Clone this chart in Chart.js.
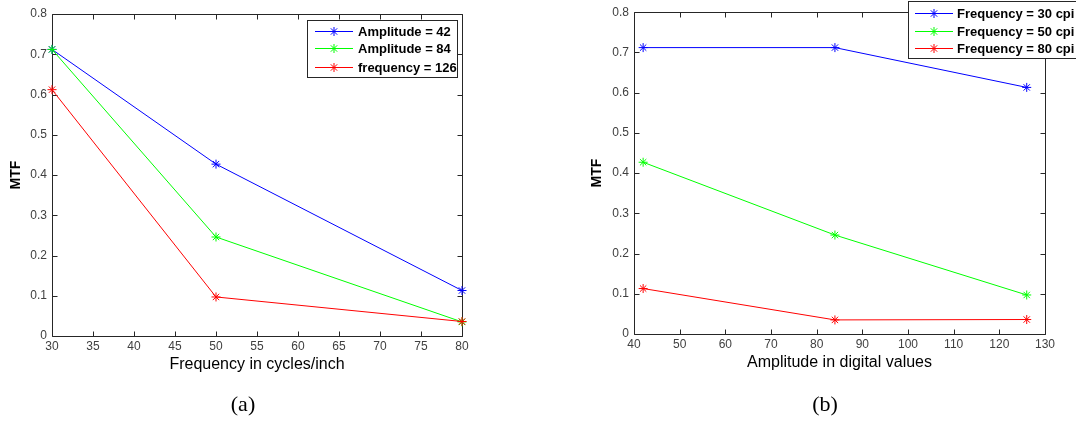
<!DOCTYPE html>
<html>
<head>
<meta charset="utf-8">
<script src="https://cdn.jsdelivr.net/npm/chart.js@4/dist/chart.umd.min.js"></script>
<style>
  html, body { margin: 0; padding: 0; background: #fff; width: 1076px; height: 421px; overflow: hidden; }
  .panel { position: absolute; top: 0; height: 421px; }
  #wrapA { left: 0; width: 540px; }
  #wrapB { left: 540px; width: 536px; }
  .cap { position: absolute; top: 391px; font-family: "Liberation Serif", "DejaVu Serif", serif; font-size: 22px; line-height: 26px; color: #000; transform: translateX(-50%); }
</style>
</head>
<body>
<div class="panel" id="wrapA"><canvas id="chartA" width="540" height="421"></canvas></div>
<div class="panel" id="wrapB"><canvas id="chartB" width="536" height="421"></canvas></div>
<div class="cap" style="left:243px">(a)</div>
<div class="cap" style="left:825px">(b)</div>
<script>
// (a) MTF versus frequency, one line per amplitude
const freqCpi = [30, 50, 80];
const mtfAmp42 = [0.712, 0.427, 0.113];
const mtfAmp84 = [0.712, 0.246, 0.035];
const mtfAmp126 = [0.612, 0.097, 0.036];
const seriesNamesA = ['Amplitude = 42', 'Amplitude = 84', 'frequency = 126'];

// (b) MTF versus amplitude, one line per frequency
const amplitudes = [42, 84, 126];
const mtfFreq30 = [0.712, 0.712, 0.613];
const mtfFreq50 = [0.427, 0.246, 0.097];
const mtfFreq80 = [0.113, 0.035, 0.036];
const seriesNamesB = ['Frequency = 30 cpi', 'Frequency = 50 cpi', 'Frequency = 80 cpi'];

// axis ranges and tick steps
const xTicksA = { min: 30, max: 80, step: 5 };
const xTicksB = { min: 40, max: 130, step: 10 };
const yTicks = { min: 0, max: 0.8, step: 0.1 };

const lineColors = ['#0000ff', '#00ff00', '#ff0000'];
const AXIS_COLOR = '#262626';
const TICK_COLOR = '#404040';
const TICK_FONT = { family: 'Liberation Sans, Arial, sans-serif', size: 12 };
const TITLE_FONT = { family: 'Liberation Sans, Arial, sans-serif', size: 16 };

function toPoints(xs, ys) { return xs.map((x, i) => ({ x: x, y: ys[i] })); }

function makeDatasets(xs, ys, names) {
  return ys.map((vals, i) => ({
    label: names[i],
    data: toPoints(xs, vals),
    borderColor: lineColors[i],
    backgroundColor: lineColors[i],
    borderWidth: 1,
    pointStyle: 'star',
    pointRadius: 4.5,
    pointBorderWidth: 1,
    pointBorderColor: lineColors[i],
    tension: 0,
    clip: false,
    order: 3 - i
  }));
}

// box around the plot area with inward tick marks on all four sides
const boxTicks = {
  id: 'boxTicks',
  beforeDatasetsDraw(chart) {
    const { ctx, chartArea: a, scales } = chart;
    const len = 5;
    ctx.save();
    ctx.strokeStyle = AXIS_COLOR;
    ctx.lineWidth = 1;
    ctx.beginPath();
    const L = Math.round(a.left) + 0.5, R = Math.round(a.right) + 0.5;
    const T = Math.round(a.top) + 0.5, B = Math.round(a.bottom) + 0.5;
    ctx.rect(L, T, R - L, B - T);
    scales.x.ticks.forEach(t => {
      const px = Math.round(scales.x.getPixelForValue(t.value)) + 0.5;
      ctx.moveTo(px, B); ctx.lineTo(px, B - len);
      ctx.moveTo(px, T); ctx.lineTo(px, T + len);
    });
    scales.y.ticks.forEach(t => {
      const py = Math.round(scales.y.getPixelForValue(t.value)) + 0.5;
      ctx.moveTo(L, py); ctx.lineTo(L + len, py);
      ctx.moveTo(R, py); ctx.lineTo(R - len, py);
    });
    ctx.stroke();
    ctx.restore();
  }
};

// legend box drawn inside the figure
const boxLegend = {
  id: 'boxLegend',
  afterDraw(chart, args, opts) {
    const { ctx } = chart;
    ctx.save();
    ctx.fillStyle = '#fff';
    ctx.strokeStyle = AXIS_COLOR;
    ctx.lineWidth = 1;
    ctx.fillRect(opts.x, opts.y, opts.w, opts.h);
    ctx.strokeRect(opts.x + 0.5, opts.y + 0.5, opts.w, opts.h);
    ctx.font = 'bold 13px "Liberation Sans", Arial, sans-serif';
    ctx.textBaseline = 'middle';
    chart.data.datasets.forEach((ds, i) => {
      const y = opts.rows[i] + 0.5;
      ctx.strokeStyle = ds.borderColor;
      ctx.beginPath();
      ctx.moveTo(opts.lineX0, y); ctx.lineTo(opts.lineX1, y);
      ctx.stroke();
      Chart.helpers.drawPoint(ctx, { pointStyle: 'star', radius: 4.5, borderWidth: 1 }, (opts.lineX0 + opts.lineX1) / 2, y);
      ctx.fillStyle = '#000';
      ctx.fillText(ds.label, opts.textX, y + 1);
    });
    ctx.restore();
  }
};

function makeChart(canvasId, xs, ys, names, xt, xTitle, layout, legend) {
  return new Chart(document.getElementById(canvasId), {
    type: 'line',
    data: { datasets: makeDatasets(xs, ys, names) },
    plugins: [boxTicks, boxLegend],
    options: {
      responsive: false,
      animation: false,
      events: [],
      layout: { padding: layout.padding },
      plugins: {
        legend: { display: false },
        tooltip: { enabled: false },
        boxLegend: legend
      },
      scales: {
        x: {
          type: 'linear',
          min: xt.min, max: xt.max,
          afterFit(scale) { scale.height = 40; },
          grid: { display: false, drawTicks: false },
          border: { display: false },
          ticks: { stepSize: xt.step, padding: 3, color: TICK_COLOR, font: TICK_FONT, maxRotation: 0, autoSkip: false },
          title: { display: true, text: xTitle, color: '#000', font: TITLE_FONT, padding: { top: 0, bottom: 2 } }
        },
        y: {
          type: 'linear',
          min: yTicks.min, max: yTicks.max,
          afterFit(scale) { scale.width = layout.yWidth; },
          grid: { display: false, drawTicks: false },
          border: { display: false },
          ticks: { stepSize: yTicks.step, padding: 5, color: TICK_COLOR, font: TICK_FONT },
          title: { display: true, text: 'MTF', color: '#000', font: { family: TITLE_FONT.family, size: 14, weight: 'bold' }, padding: { top: layout.yTitleTop, bottom: 0 } }
        }
      }
    }
  });
}

makeChart('chartA', freqCpi, [mtfAmp42, mtfAmp84, mtfAmp126], seriesNamesA, xTicksA,
  'Frequency in cycles/inch',
  { padding: { left: 0, top: 14, right: 78, bottom: 45 }, yWidth: 52, yTitleTop: 8 },
  { x: 307, y: 20, w: 150, h: 57, rows: [31, 48, 67], lineX0: 315, lineX1: 353, textX: 358 });

makeChart('chartB', amplitudes, [mtfFreq30, mtfFreq50, mtfFreq80], seriesNamesB, xTicksB,
  'Amplitude in digital values',
  { padding: { left: 0, top: 12, right: 31, bottom: 47 }, yWidth: 94, yTitleTop: 49 },
  { x: 368, y: 1, w: 200, h: 57, rows: [13, 31, 48], lineX0: 375, lineX1: 413, textX: 417 });
</script>
</body>
</html>
